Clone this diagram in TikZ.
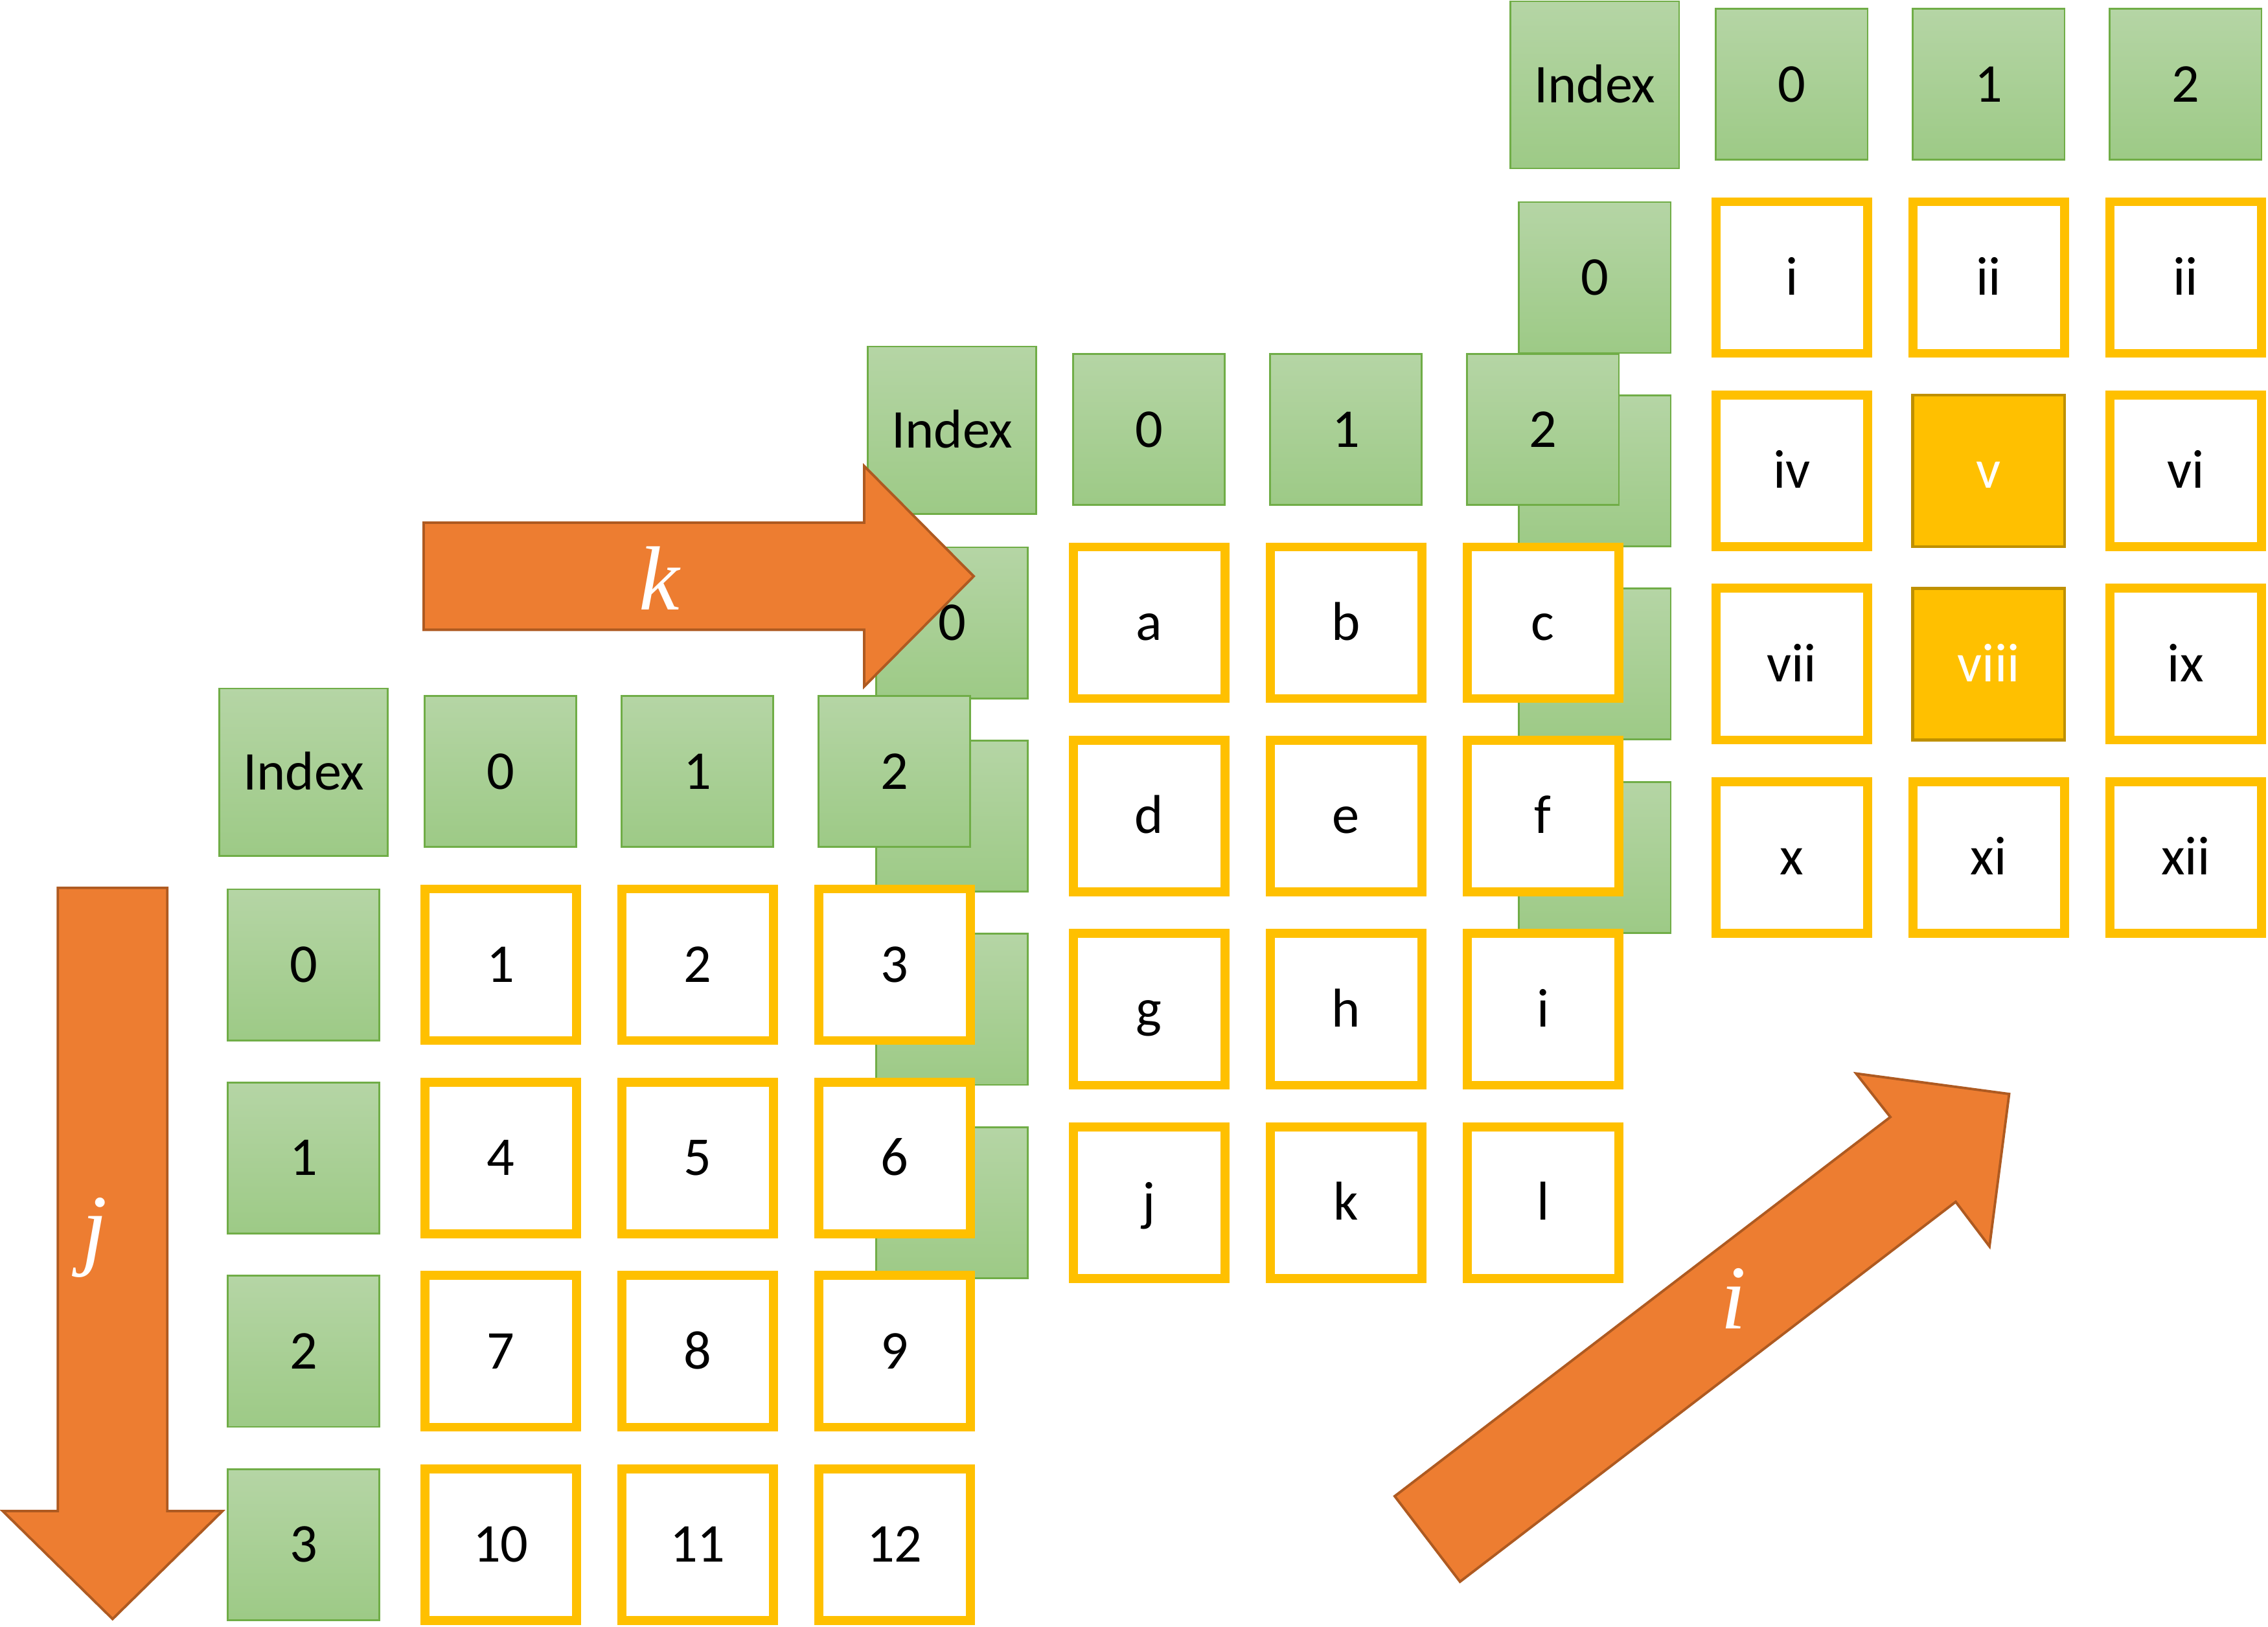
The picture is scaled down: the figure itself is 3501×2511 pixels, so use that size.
\RequirePackage{fix-cm}
\documentclass[tikz,border=0pt]{standalone}
\usepackage{fontspec}
\setmainfont{Carlito}
\newfontfamily\axisfont{Liberation Serif}
\definecolor{hdrtop}{HTML}{B5D5A5}
\definecolor{hdrbot}{HTML}{9DCA86}
\definecolor{hdredge}{HTML}{70AD47}
\definecolor{cellgold}{HTML}{FFC000}
\definecolor{golddark}{HTML}{BF9000}
\definecolor{axisorange}{HTML}{ED7D31}
\definecolor{axisedge}{HTML}{AE5A21}

\begin{document}
\begin{tikzpicture}[
  x=0.01cm, y=-0.01cm,
  idxbox/.style ={draw=hdredge, line width=0.8pt, top color=hdrtop, bottom color=hdrbot, minimum width=2.34cm, minimum height=2.33cm, inner sep=0pt, text height=0.54cm, text depth=0pt, font=\fontsize{24}{28}\selectfont},
  idxwide/.style={idxbox, minimum width=2.60cm, minimum height=2.58cm},
  cellbox/.style={draw=cellgold, line width=0.137cm, fill=white, minimum size=2.34cm, inner sep=0pt, text height=0.54cm, text depth=0pt, font=\fontsize{24}{28}\selectfont},
  hotcell/.style={draw=golddark, line width=1.3pt, fill=cellgold, text=white, minimum size=2.34cm, inner sep=0pt, text height=0.54cm, text depth=0pt, font=\fontsize{24}{28}\selectfont},
  axisarrow/.style={fill=axisorange, draw=axisedge, line width=1.1pt, line join=miter},
  axislabel/.style={text=white, inner sep=0pt, font=\axisfont\itshape\fontsize{40}{48}\selectfont},
]
  \useasboundingbox (0,0) rectangle (3501,2511);

  % index boxes of the three layers, back to front
  \foreach \lay/\dx/\dy in {C/1993/-1061, B/1001/-528, A/0/0} {
    \begin{scope}[shift={(\dx,\dy)}]
      \node[idxwide] (\lay-idx) at (468.8,1192) {Index};
      \foreach \c in {0,1,2}
        \node[idxbox] (\lay-h\c) at ({772.8+304*\c},1191) {\c};
      \foreach \r in {0,...,3}
        \node[idxbox] (\lay-r\r) at (468.8,{1489.5+298.4*\r}) {\r};
    \end{scope}
  }

  % back layer
  \begin{scope}[shift={(1993,-1061)}]
    \foreach \txt/\sty [count=\n from 0] in {i/cellbox, ii/cellbox, ii/cellbox, iv/cellbox, v/hotcell, vi/cellbox, vii/cellbox, viii/hotcell, ix/cellbox, x/cellbox, xi/cellbox, xii/cellbox} {
      \pgfmathtruncatemacro\row{div(\n,3)}
      \pgfmathtruncatemacro\col{mod(\n,3)}
      \node[\sty] (C-\row-\col) at ({772.8+304*\col},{1489.5+298.4*\row}) {\txt};
    }
  \end{scope}

  % middle layer
  \begin{scope}[shift={(1001,-528)}]
    \foreach \txt [count=\n from 0] in {a,...,l} {
      \pgfmathtruncatemacro\row{div(\n,3)}
      \pgfmathtruncatemacro\col{mod(\n,3)}
      \node[cellbox] (B-\row-\col) at ({772.8+304*\col},{1489.5+298.4*\row}) {\txt};
    }
  \end{scope}

  % k axis
  \draw[axisarrow] (654,807) -- (1334,807) -- (1334,719.6) -- (1503,889.7)
    -- (1334,1059.8) -- (1334,972.4) -- (654,972.4) -- cycle;
  \node[axislabel] (klab) at (1018,893) {k};

  % front layer
  \foreach \txt [count=\n from 0] in {1,...,12} {
    \pgfmathtruncatemacro\row{div(\n,3)}
    \pgfmathtruncatemacro\col{mod(\n,3)}
    \node[cellbox] (A-\row-\col) at ({772.8+304*\col},{1489.5+298.4*\row}) {\txt};
  }

  % j axis
  \draw[axisarrow] (89.3,1370.7) -- (258.3,1370.7) -- (258.3,2333) -- (343.3,2333)
    -- (173.8,2499.6) -- (4.3,2333) -- (89.3,2333) -- cycle;
  \node[axislabel] (jlab) at (146,1911) {j};

  % i axis
  \draw[axisarrow] (2152.9,2310) -- (2918,1724.6) -- (2865.2,1657.4) -- (3101.4,1689)
    -- (3071,1924.3) -- (3018.9,1855.5) -- (2253.7,2442) -- cycle;
  \node[axislabel] (ilab) at (2676,2005) {i};
\end{tikzpicture}
\end{document}
